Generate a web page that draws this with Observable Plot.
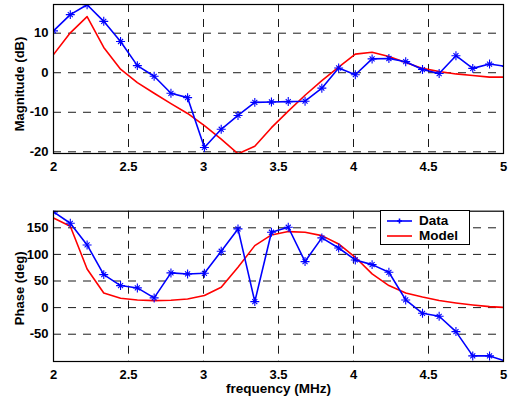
<!DOCTYPE html>
<html>
<head>
<meta charset="utf-8">
<script src="https://cdn.jsdelivr.net/npm/d3@7"></script>
<script src="https://cdn.jsdelivr.net/npm/@observablehq/plot@0.6"></script>
<style>
  html, body { margin: 0; padding: 0; background: #fff; }
  #wrap { position: relative; width: 511px; height: 403px; font-family: "Liberation Sans", Arial, Helvetica, sans-serif; }
  #wrap > .p { position: absolute; left: 0; }
  #legend { position: absolute; left: 380px; top: 210px; width: 88px; height: 33px; border: 1.2px solid #000; background: #fff; font-weight: bold; font-size: 13.5px; }
  #legend .row { position: absolute; left: 6px; height: 15px; display: flex; align-items: center; }
  #legend .row span { margin-left: 7px; }
</style>
</head>
<body>
<div id="wrap"></div>
<script>
// ---- data ----
const freq = [2.000, 2.112, 2.224, 2.335, 2.447, 2.559, 2.671, 2.783, 2.894, 3.006,
              3.118, 3.230, 3.342, 3.453, 3.565, 3.677, 3.789, 3.901, 4.012, 4.124,
              4.236, 4.348, 4.460, 4.571, 4.683, 4.795, 4.907, 5.019];
const magData = [10.6, 14.7, 17.2, 13.0, 7.9, 1.8, -0.9, -5.2, -6.3, -18.9,
                 -14.3, -10.8, -7.5, -7.4, -7.3, -7.2, -3.9, 1.2, -0.5, 3.5,
                 3.6, 2.8, 0.8, -0.2, 4.3, 1.1, 2.2, 1.6];
const magModel = [4.6, 10.1, 14.2, 6.4, 0.9, -2.5, -5.2, -7.8, -10.3, -13.4,
                  -16.8, -20.5, -18.6, -13.9, -9.7, -5.7, -2.0, 1.4, 4.7, 5.2,
                  4.1, 2.6, 1.1, 0.3, -0.3, -0.7, -1.1, -1.1];
const phaseData = [180, 158.5, 117.8, 62, 41.4, 37, 18.2, 65.2, 63.3, 64.5,
                   105.9, 147.9, 11.3, 141.6, 151, 86.5, 131, 112, 89.6, 80.8,
                   66.4, 14.4, -10.7, -16.3, -45.1, -90.8, -90.8, -101];
const phaseModel = [168.5, 152.9, 72.7, 27.6, 17.5, 14.4, 13.2, 13.8, 16.3, 22.6,
                    38.2, 75.8, 116.5, 136.6, 142.9, 141.6, 135.3, 119.7, 94.6, 63.3,
                    41.4, 27.6, 20, 13.2, 8.8, 5, 1.9, 0];
const xTicks = [2, 2.5, 3, 3.5, 4, 4.5, 5];
const magTicks = [-20, -10, 0, 10];
const phaseTicks = [-50, 0, 50, 100, 150];
const magDomain = [-20.43, 17.26];
const phaseDomain = [-101.3, 181.2];
const seriesNames = ["Data", "Model"];
const seriesColors = ["#0000ff", "#ff0000"];

const rows = (ys) => freq.map((f, i) => ({f, v: ys[i]}));

function panel(dataY, modelY, yDomain, yTicks, yLabel, opts) {
  const data = rows(dataY), model = rows(modelY);
  const marks = [
    Plot.gridX(xTicks, {stroke: "#000", strokeOpacity: 1, strokeWidth: 0.9, strokeDasharray: "8,7"}),
    Plot.gridY(yTicks, {stroke: "#000", strokeOpacity: 1, strokeWidth: 0.9, strokeDasharray: "8,7"}),
    Plot.axisX(xTicks, {tickSize: 0, tickPadding: 8, tickFormat: d => String(d), fontSize: 13, fontWeight: "bold", fill: "#000", label: null}),
    Plot.axisY(yTicks, {tickSize: 0, tickPadding: 5, tickFormat: d => String(d), fontSize: 13, fontWeight: "bold", fill: "#000", label: null}),
    Plot.line(model, {x: "f", y: "v", stroke: seriesColors[1], strokeWidth: 1.6, clip: true}),
    Plot.line(data, {x: "f", y: "v", stroke: seriesColors[0], strokeWidth: 1.6, clip: true}),
    Plot.dot(data, {x: "f", y: "v", symbol: "plus", r: 3.0, stroke: seriesColors[0], strokeWidth: 1.1, clip: true}),
    Plot.dot(data, {x: "f", y: "v", symbol: "times", r: 2.4, stroke: seriesColors[0], strokeWidth: 1.1, clip: true}),
    Plot.frame({stroke: "#000", strokeWidth: 1.2}),
    Plot.text([yLabel], {text: d => d, frameAnchor: "left", textAnchor: "middle", lineAnchor: "middle", rotate: -90, dx: -34, dy: opts.labelDy, fontSize: 13, fontWeight: "bold", fill: "#000"})
  ];
  if (opts.xLabel) {
    marks.push(Plot.text([opts.xLabel], {text: d => d, frameAnchor: "bottom", textAnchor: "middle", lineAnchor: "middle", dy: 27, fontSize: 13.5, fontWeight: "bold", fill: "#000"}));
  }
  return Plot.plot({
    width: 511,
    height: opts.height,
    marginLeft: 53,
    marginRight: 8,
    marginTop: opts.marginTop,
    marginBottom: 42,
    style: {fontFamily: '"Liberation Sans", Arial, Helvetica, sans-serif', background: "#fff", overflow: "visible"},
    x: {domain: [2, 5]},
    y: {domain: yDomain},
    marks
  });
}

const wrap = document.getElementById("wrap");
const top1 = panel(magData, magModel, magDomain, magTicks, "Magnitude (dB)", {height: 195, marginTop: 4, labelDy: 5});
top1.classList.add("p"); top1.style.top = "0px";
wrap.appendChild(top1);

const bot = panel(phaseData, phaseModel, phaseDomain, phaseTicks, "Phase (deg)", {height: 208, marginTop: 15.7, labelDy: 2, xLabel: "frequency (MHz)"});
bot.classList.add("p"); bot.style.top = "195px";
wrap.appendChild(bot);

// legend
const legend = document.createElement("div");
legend.id = "legend";
seriesNames.forEach((name, i) => {
  const row = document.createElement("div");
  row.className = "row";
  row.style.top = (i === 0 ? 2 : 17) + "px";
  const ns = "http://www.w3.org/2000/svg";
  const s = document.createElementNS(ns, "svg");
  s.setAttribute("width", 25); s.setAttribute("height", 10);
  const ln = document.createElementNS(ns, "line");
  ln.setAttribute("x1", 0); ln.setAttribute("x2", 25); ln.setAttribute("y1", 5); ln.setAttribute("y2", 5);
  ln.setAttribute("stroke", seriesColors[i]); ln.setAttribute("stroke-width", 1.6);
  s.appendChild(ln);
  if (i === 0) {
    const m = document.createElementNS(ns, "path");
    m.setAttribute("d", "M12.5,2.5V7.5M10,5H15");
    m.setAttribute("stroke", seriesColors[i]); m.setAttribute("stroke-width", 1.6);
    s.appendChild(m);
  }
  row.appendChild(s);
  const t = document.createElement("span");
  t.textContent = name;
  row.appendChild(t);
  legend.appendChild(row);
});
wrap.appendChild(legend);
</script>
</body>
</html>
